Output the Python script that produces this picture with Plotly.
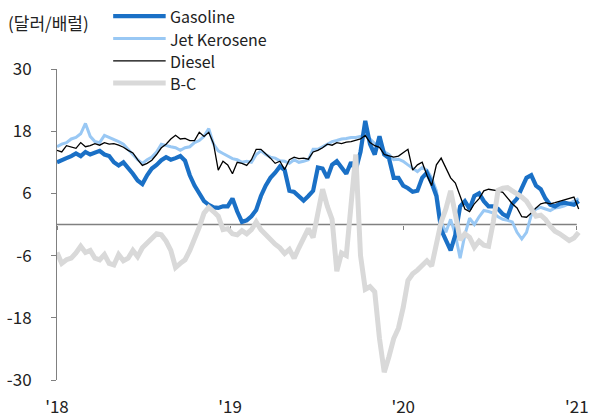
import pandas as pd
import plotly.graph_objects as go

dates = pd.date_range("2018-01-01", periods=111, freq="10D").strftime("%Y-%m-%d").tolist()

gasoline = [12, 12.3, 12.8, 13.2, 13.7, 13.2, 14, 13.5, 13.8, 14.2,
            13.5, 13.2, 12, 11.4, 12, 11, 9.8, 8.5, 7.8, 9.5,
            10.8, 11.5, 12.4, 13, 12.5, 12.8, 13.2, 12.3, 9.5, 7.5,
            6, 4.5, 3.8, 3.3, 3.2, 3.5, 3.5, 5, 2.5, 0.5,
            0.8, 1.6, 2.8, 5.5, 7.5, 9, 10, 11.2, 10.5, 6.5,
            6.3, 5.5, 4.6, 5.5, 6.5, 11, 10.8, 9, 11.5, 12.2,
            11, 9.8, 12, 10.5, 14, 20, 15.5, 13.5, 17, 13.5,
            12.8, 9, 9, 7.5, 7, 6.3, 6.5, 9, 10, 8,
            5.5, -1, -3, -5, -2, 3.5, 4.5, 3, 5.5, 6,
            4.5, 3.5, 3.5, 3, 2, 1.5, 4, 5, 7, 9,
            9.5, 7.5, 6.8, 5, 3.8, 3.5, 4, 4.2, 4, 3.8,
            4.5]

jet_kerosene = [15, 15.5, 15.8, 16.5, 16.8, 17.5, 19.5, 17, 16, 15.8,
                17.2, 16.8, 16.5, 16, 15.5, 14.5, 13.5, 12.5, 11.8, 12.5,
                13, 14, 15.5, 15.2, 15, 14.8, 14.3, 14.8, 15, 15.8,
                16.2, 17, 18.5, 15.5, 14.2, 13.7, 13.2, 12.7, 12.5, 12,
                12.2, 12, 13.5, 14.2, 13.5, 13, 12.8, 12.3, 12.2, 11.8,
                12.5, 12, 12.2, 12.5, 14.5, 14.5, 15, 15.5, 16, 16.2,
                16.5, 16.6, 16.8, 16.8, 17, 17.2, 16.5, 15.6, 15.2, 14,
                13.5, 12.5, 12.6, 12.2, 11.5, 10.8, 10.2, 11, 10.5, 9,
                6.5, 0.5, -1.5, 1, -2, -6.5, -2, 1.2, 0, 1.5,
                2.7, 2.5, 2.2, 1.5, 1, 0.8, 0.5, -1.5, -2.8, -1.5,
                1.8, 3, 3.3, 3, 2.7, 3.2, 3.3, 3.6, 4, 4.5,
                5]

diesel = [14.3, 14, 15.2, 15, 14.7, 15.8, 15, 15.2, 15.6, 15.3,
          15.8, 15.5, 15.6, 15.3, 14.9, 14.3, 13.8, 12.5, 11.4, 11.8,
          12.4, 13.5, 14.8, 15.5, 16.5, 17.2, 16.5, 16.6, 16.2, 16.2,
          17.8, 17, 17.8, 15.6, 10.5, 12.2, 11.5, 9.8, 12, 11.8,
          11.4, 12.5, 14.5, 14.5, 13.7, 12.8, 11.8, 12.2, 10.6, 12.5,
          13, 12.7, 12.8, 12.6, 14, 14.3, 14.8, 15.5, 15.3, 15.8,
          15.6, 15.9, 16, 16.2, 16.5, 17.2, 15.8, 15.2, 14.9, 13.5,
          13.3, 13, 13.2, 13.9, 14.5, 10.5, 11.5, 12, 9.5, 7.5,
          11.5, 12.8, 11, 9, 8, 5.5, 3, 2.5, 4, 5,
          6.5, 6.8, 6.7, 6.5, 6.2, 5, 4, 3.2, 1.5, 1.4,
          2.2, 3.2, 4, 4.2, 4, 4.2, 4.5, 4.8, 5, 5.3,
          3]

b_c = [-5.4, -7.5, -6.8, -6.5, -5.5, -4.2, -5.4, -5, -6.5, -6.8,
       -5.8, -7.5, -7.8, -5.8, -7, -6.5, -5, -6.2, -4.5, -3.5,
       -2.5, -1.8, -2, -3.2, -5, -8.3, -7.5, -6.8, -5, -3,
       -0.5, 2.2, 3.3, 2.5, 1.6, -1, -0.8, -1.8, -2, -1.2,
       -1.8, -1, 0.5, -1, -2, -3, -3.8, -4.5, -5.6, -4.8,
       -6.5, -4.5, -2.5, -0.8, -2.5, 2, 6.8, 3.5, 1, -9,
       -5.5, -6, 3, 13.5, -6, -12.5, -12, -13, -22, -28.5,
       -25.5, -22, -20, -16, -10.8, -9.5, -8.8, -8, -7, -8,
       -4, 0.5, 3, 6.5, 2, -3, -1.8, -2.5, -4.4, -3.2,
       -4, -4.2, 0.5, 6.6, 7, 7.1, 6.5, 6, 5.3, 4.5,
       3, 1.6, 1.8, 1, -0.3, -1.3, -1.8, -2.5, -3.1, -2.6,
       -1.5]

series_names = ["Gasoline", "Jet Kerosene", "Diesel", "B-C"]
y_ticks = [30, 18, 6, -6, -18, -30]
y_tick_text = ["30", "18", "6", "-6", "-18", "-30"]
x_tick_dates = ["2018-01-01", "2019-01-01", "2020-01-01", "2021-01-01"]
x_tick_text = ["'18", "'19", "'20", "'21"]
x_range = ["2018-01-01", "2021-01-12"]

colors = {"Gasoline": "#1a70c6", "Jet Kerosene": "#99c8f4", "Diesel": "#000000", "B-C": "#d9d9d9"}
widths = {"Gasoline": 4.2, "Jet Kerosene": 3, "Diesel": 1.3, "B-C": 5}
values = {"Gasoline": gasoline, "Jet Kerosene": jet_kerosene, "Diesel": diesel, "B-C": b_c}

FONT = "Noto Sans CJK KR"
TXT = "#222222"
AXC = "#808080"
fig = go.Figure()

for name in ["Jet Kerosene", "Gasoline", "Diesel", "B-C"]:
    fig.add_trace(go.Scatter(x=dates, y=values[name], mode="lines", name=name,
                             line=dict(color=colors[name], width=widths[name]),
                             showlegend=False))

# Invisible trace so the label axis (xaxis2) is drawn
fig.add_trace(go.Scatter(x=[dates[0]], y=[None], xaxis="x2", yaxis="y",
                         showlegend=False, hoverinfo="skip"))

# Manual legend (paper coordinates)
leg_y = [1.170, 1.098, 1.026, 0.955]
shapes = [dict(type="line", xref="x", yref="y", x0=x_tick_dates[0], x1=x_tick_dates[-1],
               y0=0, y1=0, layer="below", line=dict(color=AXC, width=1.5))]
annotations = []
for name, yy in zip(series_names, leg_y):
    shapes.append(dict(type="line", xref="paper", yref="paper", x0=0.107, x1=0.207,
                       y0=yy, y1=yy, line=dict(color=colors[name], width=widths[name])))
    annotations.append(dict(xref="paper", yref="paper", x=0.219, y=yy, text=name,
                            showarrow=False, xanchor="left", yanchor="middle",
                            xshift=-4,
                            font=dict(family=FONT, size=16, color=TXT)))
annotations.append(dict(xref="paper", yref="paper", x=-0.09, y=1.151, text="(달러/배럴)",
                        showarrow=False, xanchor="left", yanchor="middle", xshift=-4,
                        font=dict(family=FONT, size=17, color=TXT)))

fig.update_layout(
    width=591, height=419,
    margin=dict(l=57, r=9, t=69, b=39, autoexpand=False),
    paper_bgcolor="white", plot_bgcolor="white",
    font=dict(family=FONT, size=17, color=TXT),
    shapes=shapes, annotations=annotations,
    xaxis=dict(range=x_range, tickvals=x_tick_dates, anchor="free", position=0.5,
               showline=False, showgrid=False, zeroline=False, ticks="outside", ticklen=4,
               tickwidth=1, tickcolor=AXC, showticklabels=False, automargin=False,
               layer="below traces"),
    xaxis2=dict(range=x_range, overlaying="x", anchor="y", side="bottom",
                tickvals=x_tick_dates, ticktext=x_tick_text,
                showline=False, showgrid=False, zeroline=False, ticks="outside", ticklen=6,
                tickcolor="rgba(0,0,0,0)", ticklabelstandoff=6, automargin=False,
                tickfont=dict(family=FONT, size=17, color=TXT)),
    yaxis=dict(range=[-30, 30], tickvals=y_ticks, ticktext=y_tick_text, showline=True,
               linecolor=AXC, automargin=False,
               linewidth=1, ticks="outside", ticklen=5, tickcolor=AXC,
               showgrid=False, zeroline=False, ticklabelstandoff=16,
               tickfont=dict(family=FONT, size=17, color=TXT)),
)

fig.write_html("out.html", config={"displayModeBar": False},
               post_script="document.body.style.margin='0px';")
